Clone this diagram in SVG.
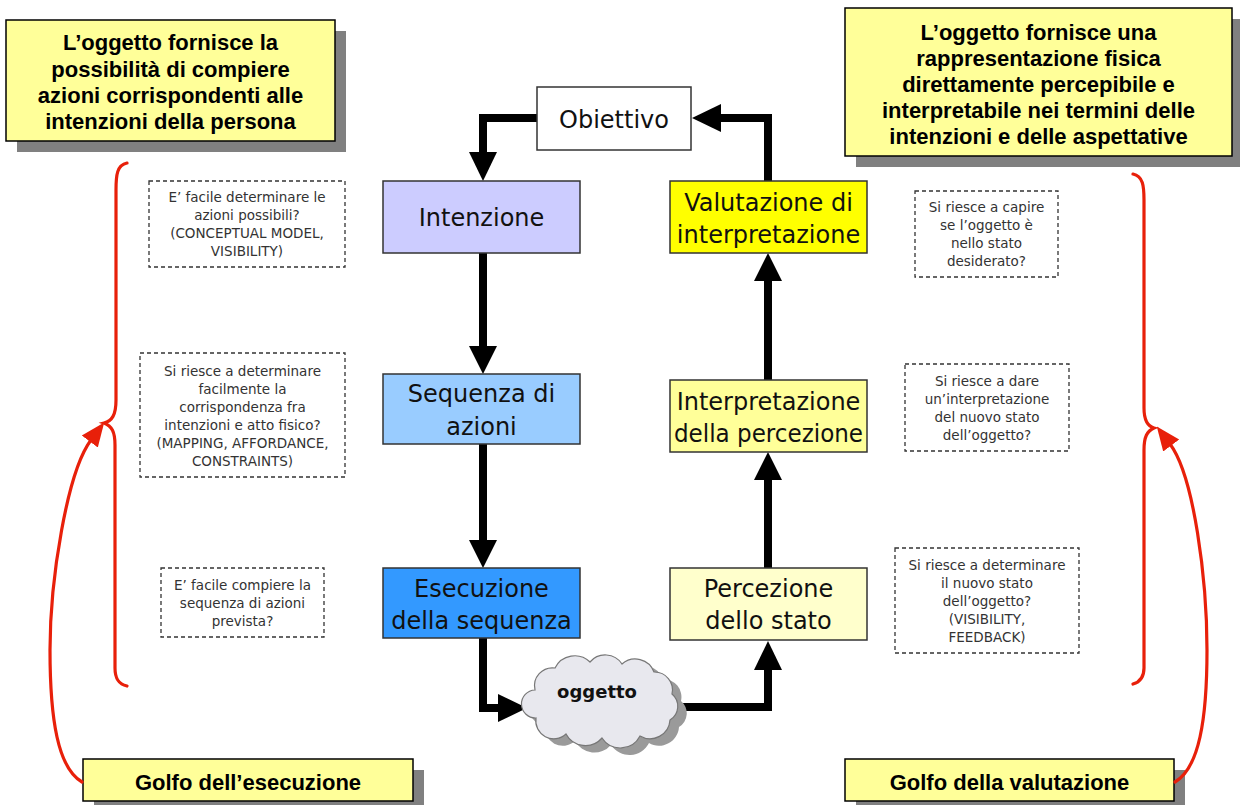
<svg xmlns="http://www.w3.org/2000/svg" width="1240" height="805" viewBox="0 0 1240 805">
<defs>
<style>
.callout{fill:#FFFF99;stroke:#000;stroke-width:1.5}
.shadow{fill:#808080}
.ct{font-family:"Liberation Sans",Arial,sans-serif;font-weight:bold;font-size:22px;fill:#000;text-anchor:middle}
.node{stroke:#333;stroke-width:1.5}
.nt{font-family:"DejaVu Sans",Verdana,sans-serif;font-size:24px;fill:#111;text-anchor:middle}
.dash{fill:#fff;stroke:#333;stroke-width:1.3;stroke-dasharray:4 3}
.dt{font-family:"DejaVu Sans",Verdana,sans-serif;font-size:13.5px;fill:#333;text-anchor:middle}
.conn{fill:none;stroke:#000;stroke-width:8}
.head{fill:#000}
.red{fill:none;stroke:#E8200A;stroke-width:3.2;stroke-linecap:round}
</style>
<marker id="redhead" markerUnits="userSpaceOnUse" markerWidth="24" markerHeight="22" viewBox="0 0 24 22" refX="2" refY="11" orient="auto">
<path d="M0,1 L24,11 L0,21 z" fill="#E8200A"/>
</marker>
</defs>
<rect width="1240" height="805" fill="#fff"/>

<g id="callout-top-left">
<rect class="shadow" x="17" y="31" width="329" height="121"/>
<rect class="callout" x="6" y="20" width="329" height="121"/>
<text class="ct" x="170.5" y="50">L’oggetto fornisce la</text>
<text class="ct" x="170.5" y="77">possibilità di compiere</text>
<text class="ct" x="170.5" y="103">azioni corrispondenti alle</text>
<text class="ct" x="170.5" y="129">intenzioni della persona</text>
</g>

<g id="callout-top-right">
<rect class="shadow" x="856" y="19" width="387" height="148"/>
<rect class="callout" x="845" y="8" width="387" height="148"/>
<text class="ct" x="1038.5" y="40">L’oggetto fornisce una</text>
<text class="ct" x="1038.5" y="66">rappresentazione fisica</text>
<text class="ct" x="1038.5" y="92">direttamente percepibile e</text>
<text class="ct" x="1038.5" y="118">interpretabile nei termini delle</text>
<text class="ct" x="1038.5" y="144">intenzioni e delle aspettative</text>
</g>

<g id="golfo-esecuzione">
<rect class="shadow" x="94" y="770" width="330" height="42"/>
<rect class="callout" x="83" y="759" width="330" height="42"/>
<text class="ct" x="248" y="790">Golfo dell’esecuzione</text>
</g>

<g id="golfo-valutazione">
<rect class="shadow" x="856" y="770" width="329" height="42"/>
<rect class="callout" x="845" y="759" width="329" height="42"/>
<text class="ct" x="1009.5" y="790">Golfo della valutazione</text>
</g>

<g id="connectors">
<polyline class="conn" points="537,118 483,118 483,154"/>
<polygon class="head" points="469,152 497,152 483,181"/>
<line class="conn" x1="483" y1="253" x2="483" y2="348"/>
<polygon class="head" points="469,346 497,346 483,374"/>
<line class="conn" x1="483" y1="444" x2="483" y2="542"/>
<polygon class="head" points="469,540 497,540 483,568"/>
<polyline class="conn" points="483,638 483,708 500,708"/>
<polygon class="head" points="498,694 498,722 527,708"/>
<polyline class="conn" points="676,707 768,707 768,668"/>
<polygon class="head" points="754,670 782,670 768,641"/>
<line class="conn" x1="768" y1="568" x2="768" y2="478"/>
<polygon class="head" points="754,480 782,480 768,452"/>
<line class="conn" x1="768" y1="380" x2="768" y2="279"/>
<polygon class="head" points="754,281 782,281 768,253"/>
<polyline class="conn" points="768,181 768,118 719,118"/>
<polygon class="head" points="721,104 721,132 692,118"/>
<path class="red" d="M127,163 C117,165 116,175 116,190 L116,400 C116,415 112,421 104,423 C112,426 115,432 115,445 L115,668 C115,678 118,684 127,686"/>
<path class="red" d="M1133,174 C1143,176 1144,186 1144,200 L1144,408 C1144,420 1147,426 1154,428 C1147,431 1144,437 1144,450 L1144,668 C1144,676 1140,682 1133,684"/>
<path class="red" marker-end="url(#redhead)" d="M82,782 C58,768 50,720 50,650 C50,580 67,472 91,440"/>
<path class="red" marker-end="url(#redhead)" d="M1175,782 C1199,768 1207,720 1207,650 C1207,580 1194,476 1170,444"/>
</g>

<g id="obiettivo">
<rect class="node" x="537" y="87" width="154" height="63" fill="#fff"/>
<text class="nt" x="614" y="128">Obiettivo</text>
</g>

<g id="intenzione">
<rect class="node" x="383" y="181" width="197" height="72" fill="#CCCCFF"/>
<text class="nt" x="481.5" y="226">Intenzione</text>
</g>

<g id="sequenza">
<rect class="node" x="383" y="374" width="197" height="70" fill="#99CCFF"/>
<text class="nt" x="481.5" y="402">Sequenza di</text>
<text class="nt" x="481.5" y="435">azioni</text>
</g>

<g id="esecuzione">
<rect class="node" x="383" y="568" width="197" height="70" fill="#3399FF"/>
<text class="nt" x="481.5" y="597">Esecuzione</text>
<text class="nt" x="481.5" y="629">della sequenza</text>
</g>

<g id="valutazione">
<rect class="node" x="670" y="181" width="197" height="72" fill="#FFFF00"/>
<text class="nt" x="768.5" y="211">Valutazione di</text>
<text class="nt" x="768.5" y="243">interpretazione</text>
</g>

<g id="interpretazione">
<rect class="node" x="670" y="380" width="197" height="72" fill="#FFFF99"/>
<text class="nt" x="768.5" y="410">Interpretazione</text>
<text class="nt" x="768.5" y="442" textLength="189" lengthAdjust="spacingAndGlyphs">della percezione</text>
</g>

<g id="percezione">
<rect class="node" x="670" y="568" width="197" height="72" fill="#FFFFCC"/>
<text class="nt" x="768.5" y="597">Percezione</text>
<text class="nt" x="768.5" y="629">dello stato</text>
</g>

<g id="oggetto">
<path transform="translate(9,7)" fill="#9a9a9a" d="M535,690 a18,18 0 0 1 20,-22 a22,22 0 0 1 35,-6 a20,20 0 0 1 32,2 a20,20 0 0 1 32,8 a18,18 0 0 1 18,22 a16,16 0 0 1 -2,26 a20,20 0 0 1 -30,16 a22,22 0 0 1 -38,2 a22,22 0 0 1 -36,-4 a18,18 0 0 1 -30,-16 a14,14 0 0 1 -1,-28 z"/>
<path fill="#E8E8EE" stroke="#777" stroke-width="1.2" d="M535,690 a18,18 0 0 1 20,-22 a22,22 0 0 1 35,-6 a20,20 0 0 1 32,2 a20,20 0 0 1 32,8 a18,18 0 0 1 18,22 a16,16 0 0 1 -2,26 a20,20 0 0 1 -30,16 a22,22 0 0 1 -38,2 a22,22 0 0 1 -36,-4 a18,18 0 0 1 -30,-16 a14,14 0 0 1 -1,-28 z"/>
<text x="597" y="698" text-anchor="middle" font-family="'DejaVu Sans',Verdana,sans-serif" font-weight="bold" font-size="18" fill="#111">oggetto</text>
</g>

<g id="q-azioni-possibili">
<rect class="dash" x="149" y="181" width="196" height="86"/>
<text class="dt" x="247" y="202">E’ facile determinare le</text>
<text class="dt" x="247" y="220">azioni possibili?</text>
<text class="dt" x="247" y="238">(CONCEPTUAL MODEL,</text>
<text class="dt" x="247" y="256">VISIBILITY)</text>
</g>

<g id="q-corrispondenza">
<rect class="dash" x="140" y="353" width="205" height="124"/>
<text class="dt" x="242.5" y="376">Si riesce a determinare</text>
<text class="dt" x="242.5" y="394">facilmente la</text>
<text class="dt" x="242.5" y="412">corrispondenza fra</text>
<text class="dt" x="242.5" y="430">intenzioni e atto fisico?</text>
<text class="dt" x="242.5" y="448">(MAPPING, AFFORDANCE,</text>
<text class="dt" x="242.5" y="466">CONSTRAINTS)</text>
</g>

<g id="q-sequenza">
<rect class="dash" x="161" y="568" width="163" height="69"/>
<text class="dt" x="242.5" y="590">E’ facile compiere la</text>
<text class="dt" x="242.5" y="608">sequenza di azioni</text>
<text class="dt" x="242.5" y="626">prevista?</text>
</g>

<g id="q-stato-desiderato">
<rect class="dash" x="915" y="191" width="143" height="86"/>
<text class="dt" x="986.5" y="212">Si riesce a capire</text>
<text class="dt" x="986.5" y="230">se l’oggetto è</text>
<text class="dt" x="986.5" y="248">nello stato</text>
<text class="dt" x="986.5" y="266">desiderato?</text>
</g>

<g id="q-interpretazione">
<rect class="dash" x="905" y="364" width="164" height="87"/>
<text class="dt" x="987" y="386">Si riesce a dare</text>
<text class="dt" x="987" y="404">un’interpretazione</text>
<text class="dt" x="987" y="422">del nuovo stato</text>
<text class="dt" x="987" y="440">dell’oggetto?</text>
</g>

<g id="q-nuovo-stato">
<rect class="dash" x="895" y="548" width="184" height="105"/>
<text class="dt" x="987" y="570">Si riesce a determinare</text>
<text class="dt" x="987" y="588">il nuovo stato</text>
<text class="dt" x="987" y="606">dell’oggetto?</text>
<text class="dt" x="987" y="624">(VISIBILITY,</text>
<text class="dt" x="987" y="642">FEEDBACK)</text>
</g>
</svg>
